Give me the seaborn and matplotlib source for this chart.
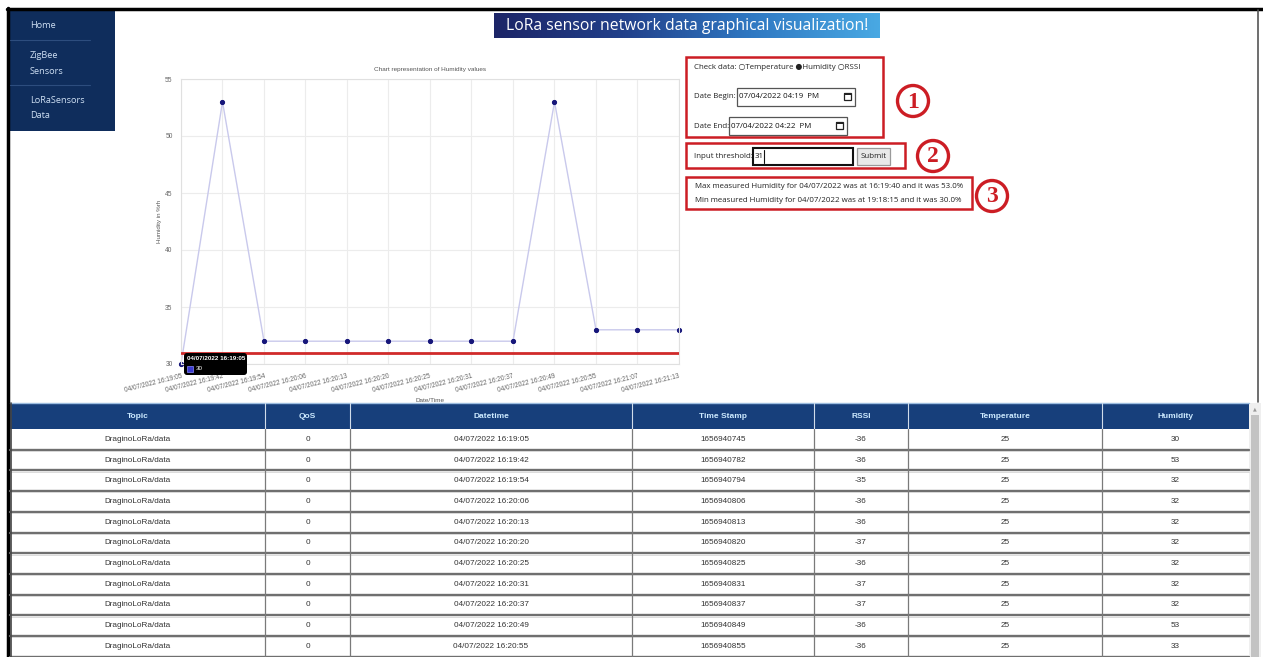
import numpy as np
import pandas as pd
import matplotlib
matplotlib.use("Agg")
import matplotlib.pyplot as plt
from matplotlib.patches import Rectangle, Circle, FancyBboxPatch
import seaborn as sns

# --- Datos de la gráfica ---
fechas = ["04/07/2022 16:19:05", "04/07/2022 16:19:42", "04/07/2022 16:19:54",
          "04/07/2022 16:20:06", "04/07/2022 16:20:13", "04/07/2022 16:20:20",
          "04/07/2022 16:20:25", "04/07/2022 16:20:31", "04/07/2022 16:20:37",
          "04/07/2022 16:20:49", "04/07/2022 16:20:55", "04/07/2022 16:21:07",
          "04/07/2022 16:21:13"]
humedad = [30, 53, 32, 32, 32, 32, 32, 32, 32, 53, 33, 33, 33]
umbral = 31
yticks = [30, 35, 40, 45, 50, 55]

# --- Datos de la tabla ---
columnas = ["Topic", "QoS", "Datetime", "Time Stamp", "RSSI", "Temperature", "Humidity"]
n_filas = 11
topicos = ["DraginoLoRa/data"] * n_filas
qos = [0] * n_filas
timestamps = [1656940745, 1656940782, 1656940794, 1656940806, 1656940813, 1656940820,
              1656940825, 1656940831, 1656940837, 1656940849, 1656940855]
rssi = [-36, -36, -35, -36, -36, -37, -36, -37, -37, -36, -36]
temperatura = [25] * n_filas
hum_tabla = humedad[:n_filas]

menu = [["Home"], ["ZigBee", "Sensors"], ["LoRaSensors", "Data"]]

W, H = 1263, 657
UI = ["Open Sans", "DejaVu Sans"]
NARROW = ["Liberation Sans Narrow", "Liberation Sans"]

sns.set_theme(style="whitegrid")
plt.rcParams["font.family"] = ["Liberation Sans", "DejaVu Sans"]

fig = plt.figure(figsize=(W / 100, H / 100), dpi=100)
fig.patch.set_facecolor("white")

# lienzo de la página en píxeles
page = fig.add_axes([0, 0, 1, 1], zorder=0)
page.set_xlim(0, W)
page.set_ylim(H, 0)
page.axis("off")

# marco negro
page.plot([7, W], [9, 9], color="black", lw=2.5)
page.plot([8, 8], [8, H], color="black", lw=2.5)
page.plot([1258, 1258], [10, 402], color="#555555", lw=1.2)

# --- menú lateral ---
page.add_patch(Rectangle((10, 10), 105, 121, fc="#0f2d5c", ec="none"))
y_menu = 26
for k, item in enumerate(menu):
    for linea in item:
        page.text(30, y_menu, linea, color="#cfe0f4", fontsize=6.6, family=UI, va="center")
        y_menu += 15.5
    if k < len(menu) - 1:
        page.plot([10, 90], [y_menu - 2, y_menu - 2], color="#2d4d7e", lw=0.8)
        y_menu += 14

# --- banner del título con degradado ---
grad = np.linspace(0, 1, 256).reshape(1, -1)
cmap_banner = matplotlib.colors.LinearSegmentedColormap.from_list(
    "banner", ["#1c2567", "#22408a", "#2f78c2", "#49a9e3"])
page.imshow(grad, extent=[494, 880, 38, 13], cmap=cmap_banner, aspect="auto", zorder=1)
page.text(687, 26, "LoRa sensor network data graphical visualization!", color="white",
          fontsize=11.3, family=UI, ha="center", va="center", zorder=2)

# --- gráfica de humedad ---
x0, x1, ytop, ybot = 181, 679, 79, 364
ax = fig.add_axes([x0 / W, 1 - ybot / H, (x1 - x0) / W, (ybot - ytop) / H], zorder=2)
df = pd.DataFrame({"idx": range(len(fechas)), "hum": humedad})
sns.lineplot(data=df, x="idx", y="hum", ax=ax, color="#c9c9ec", lw=1.0,
             marker="o", markersize=3.0, markerfacecolor="#16167a",
             markeredgecolor="#16167a")
for ln in ax.lines:
    ln.set_clip_on(False)
ax.axhline(umbral, color="#d02a2a", lw=2.0, zorder=3)
ax.set_xlim(0, len(fechas) - 1)
ax.set_ylim(min(yticks), max(yticks))
ax.set_yticks(yticks)
ax.set_xticks(range(len(fechas)))
ax.set_xticklabels(fechas, rotation=14, ha="right", rotation_mode="anchor",
                   fontsize=4.7, color="#666666")
ax.tick_params(axis="y", labelsize=4.8, labelcolor="#666666", length=4, color="#e6e6e6", pad=2)
ax.tick_params(axis="x", length=4, color="#e6e6e6", pad=2)
ax.grid(True, color="#ececec", lw=0.8)
for s in ax.spines.values():
    s.set_color("#e0e0e0")
    s.set_linewidth(0.8)
ax.set_facecolor("white")
ax.set_title("Chart representation of Humidity values", fontsize=4.6, color="#555555", pad=6)
ax.set_ylabel("Humidity in %rh", fontsize=4.4, color="#555555", labelpad=2)
ax.set_xlabel("Date/Time", fontsize=4.6, color="#555555", labelpad=3)

# tooltip sobre el primer punto (posición obtenida de las escalas del eje)
px, py = ax.transData.transform((0, humedad[0]))
tx, ty = px, H - py
page_tip = fig.add_axes([0, 0, 1, 1], zorder=5)
page_tip.set_xlim(0, W)
page_tip.set_ylim(H, 0)
page_tip.axis("off")
page_tip.add_patch(FancyBboxPatch((tx + 3, ty - 11), 63, 22,
                                  boxstyle="round,pad=0,rounding_size=3", fc="black", ec="none"))
page_tip.text(tx + 6, ty - 5, fechas[0], fontsize=4.5, fontweight="bold", color="white", va="center")
page_tip.add_patch(Rectangle((tx + 6, ty + 2), 6, 6, fc="#3a3ad0", ec="#8a8aff", lw=0.5))
page_tip.text(tx + 15, ty + 5, str(humedad[0]), fontsize=4.5, color="white", va="center")

# --- panel de controles ---
rojo = "#cc1d24"
for (bx, by, bw, bh) in [(686, 57, 197, 80), (686, 143, 219, 25), (686, 177, 286, 32)]:
    page.add_patch(Rectangle((bx, by), bw, bh, fill=False, ec=rojo, lw=1.8))
for num, (cx, cy) in zip(["1", "2", "3"], [(913, 101), (933, 156), (992, 196)]):
    page.add_patch(Circle((cx, cy), 15.5, fill=False, ec=rojo, lw=2.4))
    page.text(cx, cy + 1, num, color=rojo, fontsize=17, fontweight="bold",
              family=["Liberation Serif", "DejaVu Serif"], ha="center", va="center")

fs_ui = 5.7
page.text(694, 67, "Check data: ○Temperature ●Humidity ○RSSI", fontsize=fs_ui,
          family=UI, va="center", color="#222222")


def campo(xl, xr, yt, yb, etiqueta, valor):
    page.text(694, (yt + yb) / 2, etiqueta, fontsize=fs_ui, family=UI, va="center", color="#222222")
    page.add_patch(Rectangle((xl, yt), xr - xl, yb - yt, fc="white", ec="#555555", lw=0.9))
    page.text(xl + 2, (yt + yb) / 2, valor, fontsize=fs_ui, family=UI, va="center", color="#111111")
    page.add_patch(Rectangle((xr - 11, yt + 5), 7, 7, fill=False, ec="#222222", lw=0.9))
    page.add_patch(Rectangle((xr - 11, yt + 5), 7, 2, fc="#222222", ec="none"))


campo(737, 855, 88, 106, "Date Begin:", "07/04/2022 04:19  PM")
campo(729, 847, 117, 135, "Date End:", "07/04/2022 04:22  PM")

page.text(694, 156, "Input threshold:", fontsize=fs_ui, family=UI, va="center", color="#222222")
page.add_patch(Rectangle((753, 148), 100, 17, fc="white", ec="#111111", lw=1.5))
page.text(755, 156.5, str(umbral), fontsize=fs_ui, family=UI, va="center", color="#111111")
page.plot([764, 764], [150, 163], color="#111111", lw=0.8)
page.add_patch(Rectangle((857, 148), 33, 17, fc="#e9e9e9", ec="#9a9a9a", lw=0.9))
page.text(873.5, 156.5, "Submit", fontsize=fs_ui, family=UI, ha="center", va="center", color="#222222")

i_max = int(np.argmax(humedad))
i_min = int(np.argmin(humedad))
page.text(695, 187, f"Max measured Humidity for 04/07/2022 was at 16:19:40 and it was {humedad[i_max]:.1f}%",
          fontsize=fs_ui, family=UI, va="center", color="#222222")
page.text(695, 201, f"Min measured Humidity for 04/07/2022 was at 19:18:15 and it was {humedad[i_min]:.1f}%",
          fontsize=fs_ui, family=UI, va="center", color="#222222")

# --- tabla de datos ---
bordes = [10, 265, 350, 632, 814, 908, 1102, 1249]
y_head, y_ini, alto = 403, 429, 20.7
page.add_patch(Rectangle((bordes[0], y_head), bordes[-1] - bordes[0], y_ini - y_head,
                         fc="#173f7b", ec="none"))
page.plot([bordes[0], bordes[-1]], [y_head, y_head], color="#9dbde0", lw=1.0)
for c, nombre in enumerate(columnas):
    page.text((bordes[c] + bordes[c + 1]) / 2, (y_head + y_ini) / 2, nombre, fontsize=6.0,
              family=NARROW, fontweight="bold", ha="center", va="center", color="#cdeaff")
for xb in bordes[1:-1]:
    page.plot([xb, xb], [y_head, y_ini], color="#d0dcea", lw=0.8)

filas = list(zip(topicos, qos, fechas[:n_filas], timestamps, rssi, temperatura, hum_tabla))
for r, fila in enumerate(filas):
    yt = y_ini + r * alto
    for c, valor in enumerate(fila):
        page.text((bordes[c] + bordes[c + 1]) / 2, yt + alto / 2, str(valor), fontsize=5.9,
                  family=NARROW, ha="center", va="center", color="#333333")
    page.plot([bordes[0], bordes[-1]], [yt + alto, yt + alto], color="#6f6f6f", lw=1.7)
    page.plot([bordes[0], bordes[-1]], [yt + alto + 1.3, yt + alto + 1.3], color="#d6d6d6", lw=0.6)
for xb in bordes[1:-1]:
    page.plot([xb, xb], [y_ini, H], color="#7a7a7a", lw=0.9)
page.plot([bordes[0] + 1, bordes[0] + 1], [y_head, H], color="#444444", lw=1.2)

# barra de desplazamiento
page.add_patch(Rectangle((1249, y_head), 12, H - y_head, fc="#efefef", ec="none"))
page.add_patch(Rectangle((1251, 415), 8, H - 415, fc="#c3c3c3", ec="none"))
page.text(1255, 408.5, "▲", fontsize=3.5, family="DejaVu Sans", ha="center", va="center", color="#9a9a9a")

fig.savefig("out.png", dpi=100, facecolor="white")
